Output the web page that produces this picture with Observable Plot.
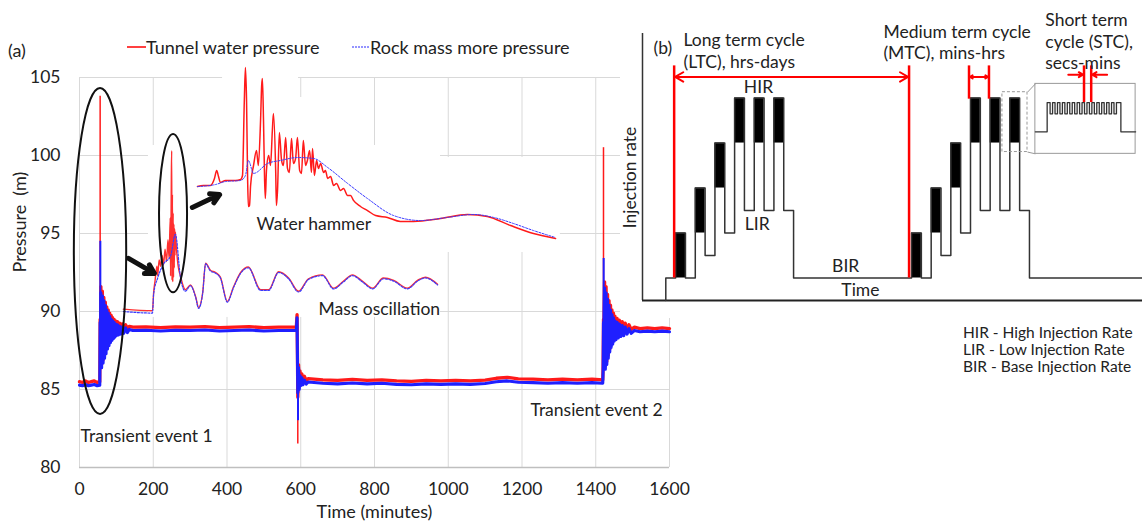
<!DOCTYPE html>
<html><head><meta charset="utf-8">
<script src="https://cdn.jsdelivr.net/npm/d3@7"></script>
<script src="https://cdn.jsdelivr.net/npm/@observablehq/plot@0.6"></script>
<style>
body{margin:0;background:#fff;}
#fig{position:relative;width:1142px;height:526px;overflow:hidden;font-family:Lato,"Open Sans",sans-serif;color:#222;background:#fff;}
#pa{position:absolute;left:0;top:0;}
#pb{position:absolute;left:620px;top:0;}
.lbl{position:absolute;white-space:nowrap;font-size:18px;line-height:18px;}
.note{position:absolute;white-space:nowrap;font-size:15.5px;line-height:17px;}
</style></head><body>
<div id="fig">
  <div id="pa"></div>
  <div id="pb"></div>
  <div class="lbl" style="left:8px;top:41px">(a)</div>
  <svg style="position:absolute;left:127px;top:44px" width="19" height="6"><line x1="0" y1="3" x2="19" y2="3" stroke="#ff0000" stroke-width="1.5"/></svg>
  <div class="lbl" style="left:146px;top:38px">Tunnel water pressure</div>
  <svg style="position:absolute;left:352px;top:44px" width="18" height="6"><line x1="0" y1="3" x2="18" y2="3" stroke="#2b2bff" stroke-width="1.2" stroke-dasharray="2,1"/></svg>
  <div class="lbl" style="left:370px;top:38px">Rock mass more pressure</div>
  <div class="note" style="left:963px;top:324px">HIR - High Injection Rate</div>
  <div class="note" style="left:963px;top:341px">LIR - Low Injection Rate</div>
  <div class="note" style="left:963px;top:358px">BIR - Base Injection Rate</div>
</div>
<script>
// ---------- Panel (a) data ----------
const xTicks = [0,200,400,600,800,1000,1200,1400,1600];
const yTicks = [80,85,90,95,100,105];

const tunnelMain = [
[0,85.5],[8,85.45],[16,85.55],[24,85.45],[32,85.5],[40,85.55],[48,85.45],[55,85.5],
[56,89.5],[57,86.5],[58,91.6],[60,86.6],[62,91.3],[64,86.9],[66,90.9],[68,87.3],[70,90.6],[72,87.6],[74,90.3],[76,87.9],[78,90.1],[80,88.1],[82,89.9],[84,88.3],[86,89.75],[88,88.45],[90,89.6],[92,88.55],[94,89.5],[96,88.65],[98,89.4],[100,88.7],[103,89.35],[106,88.75],[109,89.25],[112,88.8],[116,89.2],[120,88.85],[125,89.15],[130,88.9],[135,89.05],[145,89.0],
[180,89.02],[220,88.96],[260,89.02],[300,89.0],[340,89.03],[380,88.96],[420,89.0],[460,89.03],[500,88.96],[540,89.0],[588,89.0],
[590,89.8],[591,87.4],[592,84.5],[593,85.2],[594,86.6],[596,85.3],[598,86.2],[600,85.45],[603,86.0],[606,85.5],[610,85.85],[615,85.55],[620,85.7],
[660,85.62],[700,85.58],[740,85.65],[780,85.58],[820,85.62],[860,85.55],[900,85.52],[940,85.58],[980,85.55],[1020,85.58],[1060,85.55],[1100,85.6],[1130,85.72],[1160,85.78],[1190,85.68],[1230,85.66],[1270,85.62],[1310,85.66],[1350,85.62],[1390,85.66],[1419,85.62],
[1420,86.5],[1421,89.5],[1422,88.2],[1424,91.9],[1426,86.5],[1428,91.6],[1430,86.8],[1432,91.1],[1434,87.2],[1436,90.7],[1438,87.6],[1440,90.4],[1442,87.9],[1444,90.1],[1446,88.1],[1448,89.9],[1450,88.3],[1452,89.7],[1455,88.45],[1458,89.55],[1461,88.55],[1464,89.45],[1468,88.65],[1472,89.35],[1476,88.7],[1480,89.25],[1485,88.8],[1490,89.15],[1496,88.85],[1505,89.0],[1520,88.9],[1540,88.95],[1560,88.9],[1580,88.95],[1600,88.9]
];

const rockMain = [
[0,85.28],[8,85.24],[16,85.32],[24,85.24],[32,85.28],[40,85.32],[48,85.24],[55,85.28],
[56,89.3],[57,86.6],[58,91.2],[60,86.4],[62,91.0],[64,86.7],[66,90.7],[68,87.0],[70,90.4],[72,87.3],[74,90.1],[76,87.6],[78,89.9],[80,87.8],[82,89.7],[84,88.0],[86,89.5],[88,88.15],[90,89.4],[92,88.25],[94,89.3],[96,88.35],[98,89.2],[100,88.45],[103,89.15],[106,88.5],[109,89.05],[112,88.55],[116,89.0],[120,88.6],[125,88.95],[130,88.65],[135,88.85],[145,88.78],
[180,88.8],[220,88.75],[260,88.8],[300,88.78],[340,88.81],[380,88.75],[420,88.78],[460,88.81],[500,88.75],[540,88.78],[588,88.78],
[590,89.6],[591,87.2],[592,84.8],[593,85.0],[594,86.4],[596,85.0],[598,85.9],[600,85.25],[603,85.75],[606,85.3],[610,85.6],[615,85.35],[620,85.48],
[660,85.4],[700,85.36],[740,85.42],[780,85.36],[820,85.4],[860,85.33],[900,85.3],[940,85.36],[980,85.33],[1020,85.36],[1060,85.33],[1100,85.38],[1130,85.5],[1160,85.55],[1190,85.46],[1230,85.44],[1270,85.4],[1310,85.44],[1350,85.4],[1390,85.44],[1419,85.4],
[1420,86.2],[1421,89.3],[1422,87.9],[1424,91.5],[1426,86.3],[1428,91.2],[1430,86.6],[1432,90.8],[1434,87.0],[1436,90.4],[1438,87.4],[1440,90.1],[1442,87.7],[1444,89.8],[1446,87.9],[1448,89.6],[1450,88.1],[1452,89.4],[1455,88.2],[1458,89.3],[1461,88.3],[1464,89.2],[1468,88.4],[1472,89.1],[1476,88.45],[1480,89.0],[1485,88.55],[1490,88.9],[1496,88.6],[1505,88.78],[1520,88.7],[1540,88.74],[1560,88.7],[1580,88.74],[1600,88.7]
];

// thin transient spikes
const tunnelSpikes = [{t:56,p1:88,p2:103.8},{t:592,p1:85,p2:81.5},{t:1421,p1:88,p2:100.5}];
const rockSpikes = [{t:56.5,p1:88,p2:94.5},{t:592.5,p1:85,p2:83.0},{t:1421.5,p1:88,p2:93.4}];

// inset: mass oscillation (drawn in the main axes)
const massRed = [[119,90.15],[198,90.05],[201,91.2],[205,92.0],[210,92.9],[212,92.3],[216,93.3],[220,92.9],[224,93.6],[228,93.0],[232,94.0],[236,93.2],[240,94.6],[243,93.4],[246,96.0],[247,92.3],[249,98.5],[250,100.3],[251,92.0],[252,97.5],[253,91.9],[254,96.3],[255,92.2],[256,95.6],[257,92.8],[258,95.3],[259,93.6],[260,95.1],[263,94.0],[267,93.0],[274,92.25],[287,91.4],[301,91.7],[315,90.95],[323,90.25],[334,91.2],[342,93.1],[355,92.65],[369,92.5],[382,92.2],[401,90.65],[418,91.6],[437,92.5],[458,92.85],[491,91.4],[513,91.4],[540,92.55],[567,92.15],[594,91.3],[621,92.1],[659,92.35],[689,91.5],[716,91.95],[740,92.35],[767,91.95],[795,91.5],[824,92.15],[852,92.0],[889,91.5],[917,92.0],[938,92.2],[971,91.75]];
const massBlue = [[119,90.0],[198,89.9],[201,91.1],[212,92.15],[228,93.05],[247,93.55],[260,94.95],[274,92.15],[287,91.3],[301,91.65],[315,90.9],[323,90.2],[334,91.15],[342,93.05],[355,92.6],[369,92.45],[382,92.15],[401,90.6],[418,91.55],[437,92.45],[458,92.8],[491,91.35],[513,91.35],[540,92.5],[567,92.1],[594,91.25],[621,92.05],[659,92.3],[689,91.45],[716,91.9],[740,92.3],[767,91.9],[795,91.45],[824,92.1],[852,91.95],[889,91.45],[917,91.95],[938,92.15],[971,91.7]];

// inset: water hammer
const hammerRed = [[320,98.01],[336,98.08],[355,98.08],[366,98.53],[372,99.04],[377,98.65],[382,98.27],[396,98.4],[423,98.4],[437,98.46],[442,98.72],[447,103.53],[450,105.64],[453,103.53],[456,98.4],[458,96.73],[461,96.79],[464,98.08],[472,99.36],[480,100.32],[485,99.36],[491,102.24],[494,104.49],[496,104.94],[499,102.24],[502,98.4],[504,97.24],[507,99.04],[513,100.0],[518,99.36],[523,101.6],[526,102.69],[532,99.04],[534,96.79],[537,97.76],[542,101.47],[548,99.68],[553,99.36],[559,101.15],[564,99.17],[569,98.91],[575,101.09],[580,99.49],[586,99.81],[591,101.15],[597,99.04],[602,98.85],[607,100.96],[613,99.36],[618,99.68],[624,100.32],[629,98.91],[632,100.45],[637,98.72],[643,99.68],[648,99.17],[654,99.49],[662,98.91],[667,99.04],[673,98.53],[681,98.65],[689,98.08],[697,98.21],[708,97.76],[716,97.88],[727,97.44],[735,97.44],[743,97.12],[762,96.73],[781,96.47],[803,96.15],[835,96.03],[870,95.77],[906,95.77],[979,95.96],[1052,96.22],[1106,96.09],[1169,95.51],[1231,95.0],[1291,94.68]];
const hammerBlue = [[320,98.01],[369,98.14],[396,98.33],[437,98.4],[450,98.72],[458,99.68],[472,98.85],[510,99.49],[545,99.68],[591,99.87],[635,99.81],[673,99.23],[727,98.21],[781,97.24],[852,96.15],[925,95.83],[998,96.03],[1069,96.22],[1123,96.03],[1177,95.64],[1231,95.19],[1291,94.74]];

// background boxes behind the insets (hide grid)
const insetBacks = [
  {t1:388,t2:594,p1:103.5,p2:105.3},
  {t1:315,t2:789,p1:100.64,p2:103.72},
  {t1:187,t2:979,p1:89.62,p2:100.64},
  {t1:979,t2:1304,p1:93.78,p2:99.87}
];
const ellipses = [
  {t1:-14,t2:128,p1:83.4,p2:104.3},
  {t1:217,t2:293,p1:91.2,p2:101.35}
];
const pointers = [
  {t1:133,p1:93.4,t2:203,p2:92.44},
  {t1:306,p1:96.67,t2:380,p2:97.5}
];
const notesA = [
  {t:480,p:95.6,text:"Water hammer"},
  {t:648,p:90.15,text:"Mass oscillation"},
  {t:3,p:81.99,text:"Transient event 1"},
  {t:1223,p:83.65,text:"Transient event 2"}
];

const ellipseMark = (index, scales) => {
  const g = d3.create("svg:g");
  for (const e of ellipses) {
    const x1 = scales.x(e.t1), x2 = scales.x(e.t2), y1 = scales.y(e.p1), y2 = scales.y(e.p2);
    g.append("ellipse").attr("cx",(x1+x2)/2).attr("cy",(y1+y2)/2)
      .attr("rx",Math.abs(x2-x1)/2).attr("ry",Math.abs(y2-y1)/2)
      .attr("fill","none").attr("stroke","#111").attr("stroke-width",2);
  }
  return g.node();
};

const pa = Plot.plot({
  width:700, height:526,
  marginLeft:79, marginRight:31, marginTop:77, marginBottom:59,
  x:{domain:[0,1600]}, y:{domain:[80,105]},
  style:{fontFamily:"Lato, 'Open Sans', sans-serif", fontSize:"17px", color:"#222", background:"transparent", overflow:"visible"},
  marks:[
    Plot.gridY(yTicks, {stroke:"#d9d9d9", strokeOpacity:1}),
    Plot.gridX(xTicks, {stroke:"#d9d9d9", strokeOpacity:1}),
    Plot.ruleY([80], {stroke:"#bfbfbf", strokeWidth:1.3}),
    Plot.rect(insetBacks, {x1:"t1", x2:"t2", y1:"p1", y2:"p2", fill:"white"}),
    Plot.axisX(xTicks, {tickSize:0, tickPadding:15, label:null, fontSize:17.5, tickFormat:d=>String(d)}),
    Plot.axisY(yTicks, {tickSize:0, tickPadding:19, label:null, fontSize:17.5, tickFormat:d=>String(d)}),
    Plot.text(["Time (minutes)"], {frameAnchor:"bottom", dy:50, fontSize:18}),
    Plot.text(["Pressure  (m)"], {frameAnchor:"left", dx:-59, rotate:-90, fontSize:18}),
    Plot.ruleX(tunnelSpikes, {x:"t", y1:"p1", y2:"p2", stroke:"#ff1a1a", strokeWidth:1.5}),
    Plot.line(tunnelMain, {x:d=>d[0], y:d=>d[1], stroke:"#ff1a1a", strokeWidth:3.3}),
    Plot.ruleX(rockSpikes, {x:"t", y1:"p1", y2:"p2", stroke:"#1f1fff", strokeWidth:2}),
    Plot.line(rockMain, {x:d=>d[0], y:d=>d[1], stroke:"#1f1fff", strokeWidth:3.1}),
    Plot.line(massRed, {x:d=>d[0], y:d=>d[1], stroke:"#ff3030", strokeWidth:1.4, curve:"monotone-x"}),
    Plot.line(massBlue, {x:d=>d[0], y:d=>d[1], stroke:"#3a3aff", strokeWidth:1.2, strokeDasharray:"2,1.5", curve:"monotone-x"}),
    Plot.line(hammerRed, {x:d=>d[0], y:d=>d[1], stroke:"#ff1a1a", strokeWidth:1.5, curve:"monotone-x"}),
    Plot.line(hammerBlue, {x:d=>d[0], y:d=>d[1], stroke:"#3a3aff", strokeWidth:1, strokeDasharray:"2,1.5", curve:"monotone-x"}),
    ellipseMark,
    Plot.arrow(pointers, {x1:"t1", y1:"p1", x2:"t2", y2:"p2", stroke:"#111", strokeWidth:5, headLength:10}),
    Plot.text(notesA, {x:"t", y:"p", text:"text", textAnchor:"start", fontSize:17.5, fill:"#222"})
  ]
});
document.getElementById("pa").appendChild(pa);

// ---------- Panel (b) data ----------
const rateOutline = [[0,0],[0,1],[1,1],[1,3],[2,3],[2,1],[3,1],[3,5],[4,5],[4,2],[5,2],[5,7],[6,7],[6,3],[7,3],[7,9],[8,9],[8,4],[9,4],[9,9],[10,9],[10,4],[11,4],[11,9],[12,9],[12,4],[13,4],[13,1],
[25,1],[25,3],[26,3],[26,1],[27,1],[27,5],[28,5],[28,2],[29,2],[29,7],[30,7],[30,3],[31,3],[31,9],[32,9],[32,4],[33,4],[33,9],[34,9],[34,4],[35,4],[35,9],[36,9],[36,4],[37,4],[37,1],[48.5,1]];
const hirBlocks = [
  {u1:1,u2:2,r1:1,r2:3},{u1:3,u2:4,r1:3,r2:5},{u1:5,u2:6,r1:5,r2:7},{u1:7,u2:8,r1:7,r2:9},{u1:9,u2:10,r1:7,r2:9},{u1:11,u2:12,r1:7,r2:9},
  {u1:25,u2:26,r1:1,r2:3},{u1:27,u2:28,r1:3,r2:5},{u1:29,u2:30,r1:5,r2:7},{u1:31,u2:32,r1:7,r2:9},{u1:33,u2:34,r1:7,r2:9},{u1:35,u2:36,r1:7,r2:9}
];
const stcWave = [[37.6,7.5],[38.8,7.5],[38.8,8.8],[39.1,8.8],[39.1,8.3],[39.35,8.3],[39.35,8.8],[39.6,8.8],[39.6,8.3],[39.85,8.3],[39.85,8.8],[40.1,8.8],[40.1,8.3],[40.35,8.3],[40.35,8.8],[40.6,8.8],[40.6,8.3],[40.85,8.3],[40.85,8.8],[41.1,8.8],[41.1,8.3],[41.35,8.3],[41.35,8.8],[41.6,8.8],[41.6,8.3],[41.85,8.3],[41.85,8.8],[42.1,8.8],[42.1,8.3],[42.35,8.3],[42.35,8.8],[42.6,8.8],[42.6,8.3],[42.85,8.3],[42.85,8.8],[43.1,8.8],[43.1,8.3],[43.35,8.3],[43.35,8.8],[43.6,8.8],[43.6,8.3],[43.85,8.3],[43.85,8.8],[44.1,8.8],[44.1,8.3],[44.35,8.3],[44.35,8.8],[44.6,8.8],[44.6,8.3],[44.85,8.3],[44.85,8.8],[45.1,8.8],[45.1,8.3],[45.35,8.3],[45.35,8.8],[45.6,8.8],[45.6,8.3],[45.85,8.3],[45.85,8.8],[46.3,8.8],[46.3,7.5],[47.8,7.5]];
const zoomBoxes = [
  {u1:34.25,u2:36.8,r1:6.6,r2:9.26,dash:"3,2"},
  {u1:37.6,u2:47.8,r1:6.52,r2:9.63,dash:null}
];
const zoomLinks = [
  {u1:36.8,r1:9.26,u2:37.6,r2:9.63},
  {u1:36.8,r1:6.6,u2:37.6,r2:6.52}
];
const redMarkers = [
  {u:0.85,r1:1,r2:10.43},{u:24.75,r1:1,r2:10.43},
  {u:30.85,r1:8.95,r2:10.43},{u:32.88,r1:8.95,r2:10.43},
  {u:42.55,r1:8.8,r2:10.43},{u:43.28,r1:8.8,r2:10.43}
];
const redArrows = [
  {u1:12.8,u2:0.95,r:9.94},{u1:12.8,u2:24.65,r:9.94},
  {u1:31.86,u2:30.95,r:9.94},{u1:31.86,u2:32.78,r:9.94},
  {u1:40.95,u2:42.45,r:10.04},{u1:44.9,u2:43.38,r:10.04}
];
const notesBStart = [
  {u:-1.25,r:11.2,text:"(b)"},
  {u:1.8,r:11.56,text:"Long term cycle"},
  {u:1.8,r:10.58,text:"(LTC), hrs-days"},
  {u:22.14,r:11.91,text:"Medium term cycle"},
  {u:22.14,r:10.98,text:"(MTC), mins-hrs"},
  {u:38.61,r:12.44,text:"Short term"},
  {u:38.61,r:11.47,text:"cycle (STC),"},
  {u:38.61,r:10.53,text:"secs-mins"}
];
const notesBMid = [
  {u:9.43,r:9.47,text:"HIR"},
  {u:9.3,r:3.38,text:"LIR"},
  {u:18.3,r:1.51,text:"BIR"},
  {u:19.8,r:0.44,text:"Time"}
];

const pb = Plot.plot({
  width:522, height:318,
  marginLeft:22, marginRight:0, marginTop:33, marginBottom:18,
  x:{domain:[-2.37,48.5], axis:null}, y:{domain:[0,11.87], axis:null},
  style:{fontFamily:"Lato, 'Open Sans', sans-serif", fontSize:"17px", color:"#222", background:"white", overflow:"visible"},
  marks:[
    Plot.ruleX([-2.37], {y1:0, y2:11.87, stroke:"#333", strokeWidth:1.5}),
    Plot.ruleY([0], {x1:-2.37, x2:48.5, stroke:"#222", strokeWidth:2}),
    Plot.rect(hirBlocks, {x1:"u1", x2:"u2", y1:"r1", y2:"r2", fill:"black"}),
    Plot.line(rateOutline, {x:d=>d[0], y:d=>d[1], stroke:"#333", strokeWidth:1.5}),
    Plot.rect(zoomBoxes.filter(d=>d.dash), {x1:"u1", x2:"u2", y1:"r1", y2:"r2", fill:"none", stroke:"#999", strokeWidth:1, strokeDasharray:"3,2"}),
    Plot.rect(zoomBoxes.filter(d=>!d.dash), {x1:"u1", x2:"u2", y1:"r1", y2:"r2", fill:"white", stroke:"#999", strokeWidth:1}),
    Plot.link(zoomLinks, {x1:"u1", y1:"r1", x2:"u2", y2:"r2", stroke:"#999", strokeWidth:1}),
    Plot.line(stcWave, {x:d=>d[0], y:d=>d[1], stroke:"#333", strokeWidth:1.3}),
    Plot.ruleX(redMarkers, {x:"u", y1:"r1", y2:"r2", stroke:"#ff0000", strokeWidth:2.5}),
    Plot.arrow(redArrows, {x1:"u1", y1:"r", x2:"u2", y2:"r", stroke:"#ff0000", strokeWidth:2, headLength:7}),
    Plot.text(notesBStart, {x:"u", y:"r", text:"text", textAnchor:"start", fontSize:17.5, fill:"#222"}),
    Plot.text(notesBMid, {x:"u", y:"r", text:"text", textAnchor:"middle", fontSize:17.5, fill:"#222"}),
    Plot.text(["Injection rate"], {x:[-3.59], y:[5.47], rotate:-90, fontSize:17.5, fill:"#222"})
  ]
});
document.getElementById("pb").appendChild(pb);
</script>
</body></html>
